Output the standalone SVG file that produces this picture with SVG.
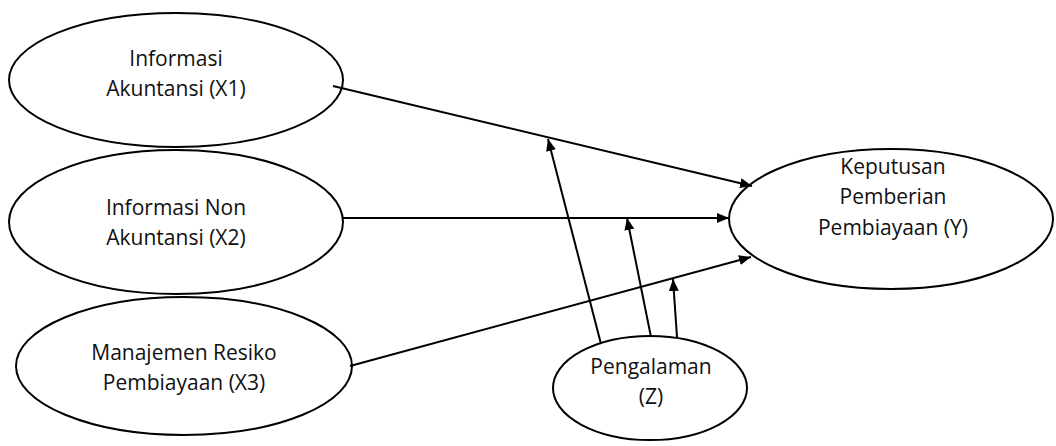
<svg xmlns="http://www.w3.org/2000/svg" width="1056" height="446" viewBox="0 0 1056 446">
<defs>
<marker id="ah" viewBox="0 0 12 10" refX="12" refY="5" markerWidth="12" markerHeight="10" markerUnits="userSpaceOnUse" orient="auto">
<path d="M0,0 L12,5 L0,10 Z" fill="#000"/>
</marker>
</defs>
<style>
.n ellipse{fill:#fff;stroke:#000;stroke-width:2}
.n text{font-family:"Open Sans","Noto Sans",sans-serif;font-size:21px;fill:#111;text-anchor:middle;dominant-baseline:central}
.c line{stroke:#000;stroke-width:2;marker-end:url(#ah)}
</style>
<rect width="1056" height="446" fill="#fff"/>
<g id="X1" class="n">
<ellipse cx="176" cy="80" rx="167" ry="67"/>
<text x="176" y="58">Informasi</text>
<text x="176" y="88">Akuntansi (X1)</text>
</g>
<g id="X2" class="n">
<ellipse cx="176" cy="222" rx="167" ry="72"/>
<text x="176" y="207">Informasi Non</text>
<text x="176" y="237">Akuntansi (X2)</text>
</g>
<g id="X3" class="n">
<ellipse cx="184" cy="366" rx="168" ry="69"/>
<text x="184" y="352">Manajemen Resiko</text>
<text x="184" y="382">Pembiayaan (X3)</text>
</g>
<g id="Y" class="n">
<ellipse cx="891" cy="219" rx="162" ry="70"/>
<text x="893" y="166">Keputusan</text>
<text x="893" y="196">Pemberian</text>
<text x="893" y="227">Pembiayaan (Y)</text>
</g>
<g id="Z" class="n">
<ellipse cx="650" cy="388" rx="97" ry="52"/>
<text x="651" y="366">Pengalaman</text>
<text x="651" y="396">(Z)</text>
</g>
<g id="connectors" class="c">
<line x1="333" y1="86" x2="752" y2="186"/>
<line x1="343" y1="218" x2="729" y2="218"/>
<line x1="350" y1="366" x2="751" y2="257"/>
<line x1="601" y1="344" x2="548" y2="139"/>
<line x1="651" y1="337" x2="627" y2="218"/>
<line x1="677" y1="337" x2="673" y2="279"/>
</g>
</svg>
